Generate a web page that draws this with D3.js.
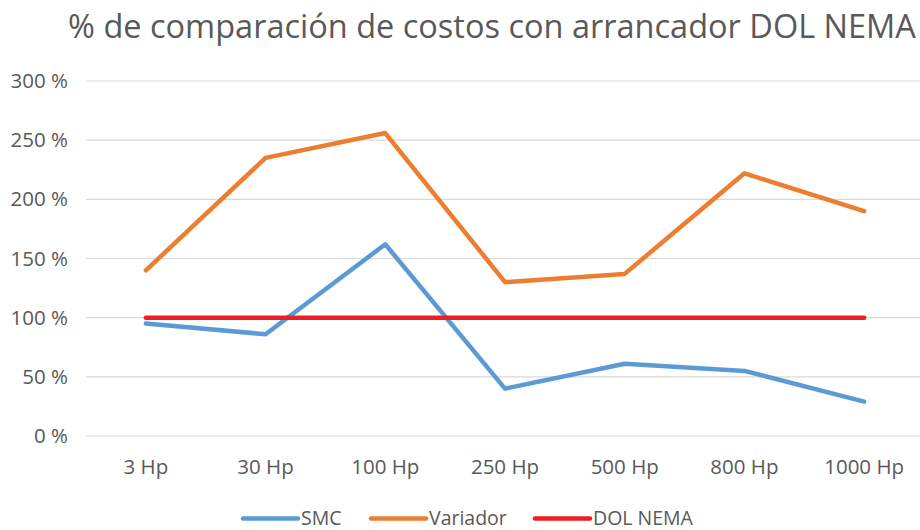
<!DOCTYPE html>
<html>
<head>
<meta charset="utf-8">
<script src="https://cdn.jsdelivr.net/npm/d3@7"></script>
<style>
  body { margin: 0; background: #fff; }
  svg { display: block; }
  text { font-family: "Open Sans", "Noto Sans", sans-serif; fill: #595959; }
</style>
</head>
<body>
<svg id="chart" width="920" height="530"></svg>
<script>
const categories = ["3 Hp", "30 Hp", "100 Hp", "250 Hp", "500 Hp", "800 Hp", "1000 Hp"];
const smc = [95, 86, 162, 40, 61, 55, 29];
const variador = [140, 235, 256, 130, 137, 222, 190];
const dolNema = [100, 100, 100, 100, 100, 100, 100];
const yTicks = [0, 50, 100, 150, 200, 250, 300];
const seriesNames = ["SMC", "Variador", "DOL NEMA"];
const seriesColors = ["#5B9BD5", "#ED7D31", "#EE1C25"];

const series = [smc, variador, dolNema].map((vals, i) => ({ name: seriesNames[i], color: seriesColors[i], values: vals }));

const svg = d3.select("#chart");
const pLeft = 86, pRight = 924, pTop = 81, pBottom = 436;

const x = d3.scaleBand().domain(categories).range([pLeft, pRight]);
const y = d3.scaleLinear().domain([0, 300]).range([pBottom, pTop]);

// gridlines
svg.append("g").selectAll("line").data(yTicks).join("line")
  .attr("x1", pLeft).attr("x2", pRight)
  .attr("y1", d => y(d)).attr("y2", d => y(d))
  .attr("stroke", "#d9d9d9").attr("stroke-width", 1.2);

// y axis labels
const yAxis = d3.axisLeft(y).tickValues(yTicks).tickFormat(d => d + " %").tickSize(0).tickPadding(18);
const ya = svg.append("g").attr("transform", `translate(${pLeft},0)`).call(yAxis);
ya.select(".domain").remove();
ya.selectAll("text").attr("font-size", 20.5).style("fill", "#595959").attr("font-family", "Open Sans");

// x axis labels
const xAxis = d3.axisBottom(x).tickSize(0).tickPadding(23);
const xa = svg.append("g").attr("transform", `translate(0,${pBottom})`).call(xAxis);
xa.select(".domain").remove();
xa.selectAll("text").attr("font-size", 20.5).style("fill", "#595959").attr("font-family", "Open Sans");

// lines
const line = d3.line().x((d, i) => x(categories[i]) + x.bandwidth() / 2).y(d => y(d));
svg.append("g").selectAll("path").data(series).join("path")
  .attr("d", d => line(d.values))
  .attr("fill", "none")
  .attr("stroke", d => d.color)
  .attr("stroke-width", 4.5)
  .attr("stroke-linecap", "round")
  .attr("stroke-linejoin", "round");

// title
svg.append("text")
  .attr("x", 492).attr("y", 37.5)
  .attr("text-anchor", "middle")
  .attr("font-size", 32.5)
  .text("% de comparación de costos con arrancador DOL NEMA");

// legend
const legendX = [243, 371, 535];
const lg = svg.append("g").selectAll("g").data(series).join("g")
  .attr("transform", (d, i) => `translate(${legendX[i]},518.5)`);
lg.append("line").attr("x1", 0).attr("x2", 55).attr("y1", 0).attr("y2", 0)
  .attr("stroke", d => d.color).attr("stroke-width", 4.5).attr("stroke-linecap", "round");
lg.append("text").attr("x", 58).attr("y", 6.5).attr("font-size", 19.5).text(d => d.name);
</script>
</body>
</html>
